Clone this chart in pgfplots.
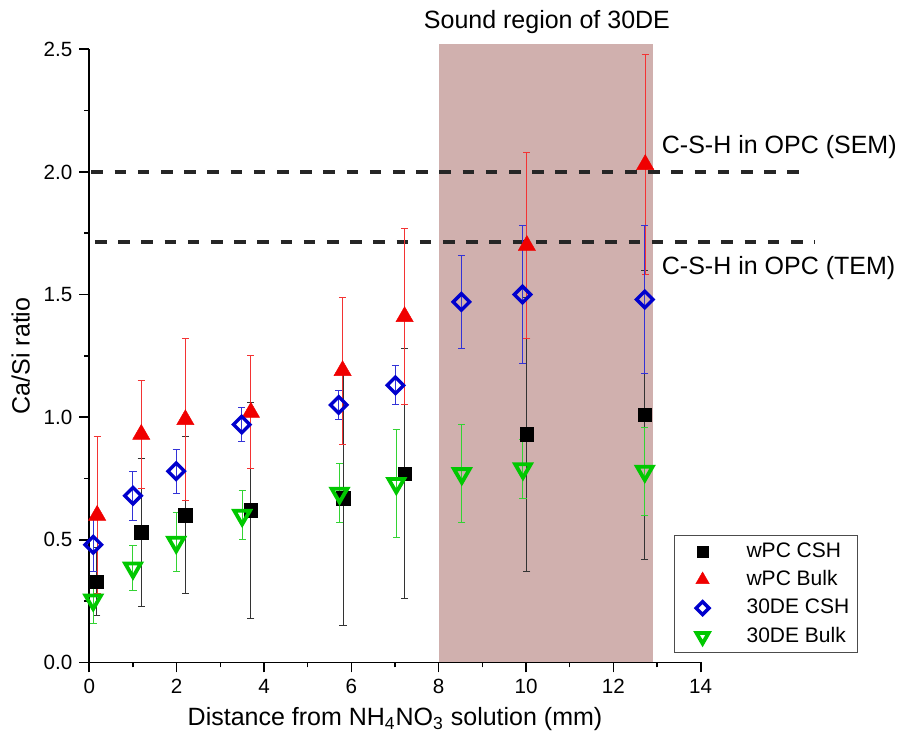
\documentclass[border=0pt]{standalone}
\usepackage{fontspec}
\setmainfont{Liberation Sans}
\usepackage{pgfplots}
\pgfplotsset{compat=1.18}
\usepackage{pgfplotstable}
\definecolor{shade}{RGB}{208,176,174}
\definecolor{myred}{RGB}{240,0,0}
\definecolor{myblue}{RGB}{0,0,205}
\definecolor{mygreen}{RGB}{0,200,0}

\pgfplotsset{mylegimg/.style={legend image code/.code={%
  \path[draw=none, fill=none] (-12pt,0pt) (20pt,0pt);
  \draw[##1, every mark/.append style={scale=0.78}] plot coordinates {(0pt,0pt)};}}}

\pgfplotstableread{
x y e
0.17 0.33 0.14
1.19 0.53 0.30
2.20 0.60 0.32
3.70 0.62 0.44
5.81 0.67 0.52
7.22 0.77 0.51
10.02 0.93 0.56
12.72 1.01 0.59
}\wpccsh

\pgfplotstableread{
x y e
0.18 0.60 0.32
1.19 0.93 0.22
2.20 0.99 0.33
3.70 1.02 0.23
5.80 1.19 0.30
7.22 1.41 0.36
10.02 1.70 0.38
12.73 2.03 0.45
}\wpcbulk

\pgfplotstableread{
x y e
0.09 0.48 0.11
1.00 0.68 0.10
1.99 0.78 0.09
3.49 0.97 0.07
5.71 1.05 0.06
7.01 1.13 0.08
8.52 1.47 0.19
9.92 1.50 0.28
12.72 1.48 0.30
}\dcsh

\pgfplotstableread{
x y e
0.09 0.255 0.095
1.00 0.385 0.09
1.99 0.49 0.12
3.50 0.60 0.10
5.73 0.69 0.12
7.03 0.73 0.22
8.53 0.77 0.20
9.93 0.79 0.12
12.72 0.78 0.18
}\dbulk

\begin{document}
\begin{tikzpicture}
\begin{axis}[
  name=ax, at={(0,0)}, anchor=south west,
  scale only axis, width=305.7pt, height=306.6pt,
  xmin=0, xmax=14, ymin=0, ymax=2.5,
  axis x line*=bottom, axis y line*=left,
  axis line style={line width=0.9pt},
  xtick={0,2,4,6,8,10,12,14}, ytick={0,0.5,1,1.5,2,2.5},
  minor x tick num=1, minor y tick num=1,
  tick align=outside,
  major tick length=5pt, minor tick length=2.5pt,
  every tick/.style={black, line width=0.8pt},
  tick label style={font=\fontsize{10.3}{12}\selectfont},
  /pgf/number format/assume math mode=true,
  y tick label style={/pgf/number format/.cd, fixed, fixed zerofill, precision=1, /tikz/.cd},
  xlabel={Distance from NH\textsubscript{4}NO\textsubscript{3} solution (mm)},
  ylabel={Ca/Si ratio},
  label style={font=\fontsize{12.5}{15}\selectfont},
  clip=false,
  legend style={at={(0.9563,0.2079)}, anchor=north west, draw=black!70, line width=0.6pt,
    font=\fontsize{10.5}{12.5}\selectfont, row sep=1.2pt, inner xsep=2pt, inner ysep=1.5pt},
  legend cell align=left,
  error bars/y dir=both, error bars/y explicit,
]
% shaded sound region
\addplot[forget plot, fill=shade, draw=none] coordinates {(8,2.52) (12.9,2.52)} \closedcycle;
% reference lines
\addplot[forget plot, black!85, line width=1.6pt, dash pattern=on 5.8pt off 5.8pt] coordinates {(0.05,2.0) (16.5,2.0)};
\addplot[forget plot, black!85, line width=1.6pt, dash pattern=on 5.8pt off 5.8pt] coordinates {(0.13,1.714) (16.6,1.714)};

\addplot[only marks, mylegimg, mark=square*, mark size=3.4pt, mark options={fill=black, draw=black, line width=0.2pt},
  error bars/error bar style={line width=0.5pt, black!80},
  error bars/error mark options={rotate=90, mark size=1.8pt, line width=0.5pt, black!80}]
  table[x=x, y=y, y error=e] {\wpccsh};
\addlegendentry{wPC CSH}

\addplot[only marks, mylegimg, mark=triangle*, mark size=5pt, mark options={fill=myred, draw=myred, line width=0.2pt},
  error bars/error bar style={line width=0.5pt, myred!80},
  error bars/error mark options={rotate=90, mark size=1.8pt, line width=0.5pt, myred!80}]
  table[x=x, y=y, y error=e] {\wpcbulk};
\addlegendentry{wPC Bulk}

\addplot[only marks, mylegimg, mark=square, mark size=2.9pt, mark options={rotate=45, fill=white, draw=myblue, line width=1.7pt},
  error bars/error bar style={line width=0.5pt, myblue!80},
  error bars/error mark options={rotate=90, mark size=1.8pt, line width=0.5pt, myblue!80}]
  table[x=x, y=y, y error=e] {\dcsh};
\addlegendentry{30DE CSH}

\addplot[only marks, mylegimg, mark=triangle, mark size=4.5pt, mark options={rotate=180, fill=white, draw=mygreen, line width=1.9pt},
  error bars/error bar style={line width=0.5pt, mygreen!80},
  error bars/error mark options={rotate=90, mark size=1.8pt, line width=0.5pt, mygreen!80}]
  table[x=x, y=y, y error=e] {\dbulk};
\addlegendentry{30DE Bulk}

\node[anchor=west, font=\fontsize{12.5}{15}\selectfont] at (axis cs:12.95,2.10) {C-S-H in OPC (SEM)};
\node[anchor=west, font=\fontsize{12.5}{15}\selectfont] at (axis cs:12.95,1.607) {C-S-H in OPC (TEM)};
\node[font=\fontsize{12.5}{15}\selectfont] at (axis cs:10.48,2.61) {Sound region of 30DE};
\end{axis}
\pgfresetboundingbox
\path[use as bounding box] (-44.65pt,-39.75pt) rectangle (405.35pt,331.25pt);
\end{tikzpicture}
\end{document}
